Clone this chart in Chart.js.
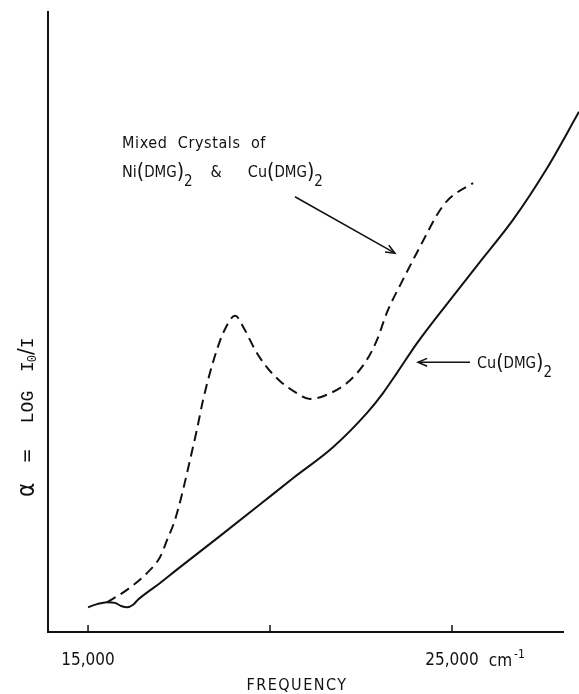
<!DOCTYPE html>
<html><head><meta charset="utf-8">
<script src="https://cdn.jsdelivr.net/npm/chart.js@4/dist/chart.umd.min.js"></script>
<style>html,body{margin:0;padding:0;background:#fff}#wrap{width:579px;height:694px;position:relative}</style>
</head><body><div id="wrap"><canvas id="c" width="579" height="694"></canvas></div>
<script>
// Cu(DMG)2 (solid) : frequency (cm-1) vs absorbance (arbitrary units)
const cuFreq = [15000,15250,15520,15740,15910,16070,16240,16370,16980,17450,18630,19730,20630,21730,22660,23100,23490,24040,24940,25770,26680,27610,28490];
const cuAbs  = [4.0,4.5,4.8,4.7,4.2,4.0,4.4,5.2,7.9,10.1,15.5,20.6,24.8,29.8,35.3,38.5,41.8,46.6,53.5,59.7,66.5,74.8,83.9];
// Mixed crystals of Ni(DMG)2 & Cu(DMG)2 (dashed)
const mixFreq = [15520,16070,16620,16980,17170,17390,17610,17800,17990,18160,18350,18540,18710,19040,19310,19590,19860,20270,20690,21100,21650,22200,22660,22940,23210,23650,23930,24260,24590,24860,25170,25580];
const mixAbs  = [4.8,6.8,9.5,12.1,14.8,18.1,22.9,27.7,32.6,37.4,41.8,45.5,48.2,51.0,48.7,45.5,43.1,40.5,38.7,37.6,38.5,40.6,43.9,47.1,51.5,56.8,60.0,63.7,67.3,69.5,71.0,72.4];
const xTickValues = [15000,20000,25000];
const xTickLabels = ['15,000','','25,000'];
const xUnit = 'cm';
const xUnitExp = '-1';
const xTitle = 'FREQUENCY';

const INK = '#111';
const FONT = "'DejaVu Sans Condensed','DejaVu Sans',sans-serif";

function pts(xs, ys){ return xs.map((x,i)=>({x:x, y:ys[i]})); }

const annot = {
  id:'annot',
  afterDraw(chart){
    const ctx = chart.ctx, xs = chart.scales.x, ys = chart.scales.y;
    const X = v=>xs.getPixelForValue(v), Y = v=>ys.getPixelForValue(v);
    ctx.save();
    ctx.fillStyle = INK; ctx.strokeStyle = INK;
    ctx.lineWidth = 1.5;
    xTickValues.forEach(v=>{
      const px = X(v);
      ctx.beginPath(); ctx.moveTo(px, ys.bottom); ctx.lineTo(px, ys.bottom-7); ctx.stroke();
    });
    ctx.font = "17px " + FONT;
    ctx.textBaseline = 'alphabetic'; ctx.textAlign = 'left';
    const lw = ctx.measureText(xTickLabels[2]).width;
    const lx = X(xTickValues[2]) + lw/2 + 10;
    const by = 666;
    ctx.fillText(xUnit, lx, by);
    const cw = ctx.measureText(xUnit).width;
    ctx.font = "12px " + FONT;
    ctx.fillText(xUnitExp, lx + cw + 2, by - 8);
    ctx.font = "16px " + FONT;
    ctx.textAlign = 'center'; ctx.textBaseline = 'middle';
    try { ctx.letterSpacing = '1.5px'; } catch(e) {}
    ctx.fillText(xTitle, 297, 686);
    try { ctx.letterSpacing = '0px'; } catch(e) {}
    ctx.save();
    ctx.translate(28, 0);
    ctx.rotate(-Math.PI/2);
    ctx.textAlign = 'center'; ctx.textBaseline = 'middle';
    ctx.font = "24px " + FONT;
    ctx.fillText('α', -490, 0);
    ctx.font = "20px " + FONT;
    ctx.fillText('=', -456, 0);
    ctx.font = "18px 'Liberation Mono', monospace";
    ctx.fillText('LOG', -407, 0);
    ctx.textAlign = 'left';
    let p = -372;
    ctx.font = "18px 'Liberation Mono', monospace";
    ctx.fillText('I', p, 0); p += ctx.measureText('I').width - 1;
    ctx.font = "12px 'Liberation Mono', monospace";
    ctx.fillText('0', p, 5); p += ctx.measureText('0').width;
    ctx.font = "22px " + FONT;
    ctx.fillText('/', p, -1); p += ctx.measureText('/').width;
    ctx.font = "18px 'Liberation Mono', monospace";
    ctx.fillText('I', p, 0);
    ctx.restore();

    function rich(parts, x, y){
      ctx.textAlign = 'left'; ctx.textBaseline = 'alphabetic';
      let cx = x;
      parts.forEach(([t, s, dy, gap])=>{
        ctx.font = s + "px " + FONT;
        ctx.fillText(t, cx, y + (dy||0));
        cx += ctx.measureText(t).width + (gap||0);
      });
    }
    ctx.font = "16px " + FONT;
    try { ctx.letterSpacing = '0.6px'; } catch(e) {}
    ctx.textAlign = 'left'; ctx.textBaseline = 'alphabetic';
    ctx.fillText('Mixed  Crystals  of', X(15934), 148);
    try { ctx.letterSpacing = '0px'; } catch(e) {}
    rich([['Ni',16,0],['(',21,1],['DMG',15,0],[')',21,1],['2',15,9,18],['&',16,0,26],['Cu',16,0],['(',21,1],['DMG',15,0],[')',21,1],['2',15,9]], X(15934), 177);
    rich([['Cu',16,0],['(',21,1],['DMG',15,0],[')',21,1],['2',15,9]], X(25686), 368);

    function arrow(x1,y1,x2,y2){
      ctx.lineWidth = 1.5;
      ctx.beginPath(); ctx.moveTo(x1,y1); ctx.lineTo(x2,y2); ctx.stroke();
      const a = Math.atan2(y2-y1, x2-x1), L = 10, w = 0.4;
      ctx.beginPath();
      ctx.moveTo(x2 - L*Math.cos(a-w), y2 - L*Math.sin(a-w));
      ctx.lineTo(x2, y2);
      ctx.lineTo(x2 - L*Math.cos(a+w), y2 - L*Math.sin(a+w));
      ctx.stroke();
    }
    arrow(X(20686), Y(70.2), X(23433), Y(61.1));
    arrow(X(25494), Y(43.5), X(24065), Y(43.5));
    ctx.restore();
  }
};

new Chart(document.getElementById('c'), {
  type:'line',
  data:{ datasets:[
    { label:'Cu(DMG)2', data:pts(cuFreq, cuAbs), borderColor:INK, borderWidth:2, pointRadius:0,
      cubicInterpolationMode:'monotone', clip:false, fill:false },
    { label:'Mixed', data:pts(mixFreq, mixAbs), borderColor:INK, borderWidth:2, borderDash:[10,6], pointRadius:0,
      cubicInterpolationMode:'monotone', clip:false, fill:false }
  ]},
  options:{
    responsive:false, animation:false, devicePixelRatio:1,
    layout:{ padding:{ top:12, right:16, left:0, bottom:0 } },
    plugins:{ legend:{display:false}, tooltip:{enabled:false} },
    scales:{
      x:{ type:'linear', min:13900, max:28050,
        afterBuildTicks:s=>{ s.ticks = xTickValues.map(v=>({value:v})); },
        afterFit:s=>{ s.height = 62; },
        grid:{ display:true, drawOnChartArea:false, drawTicks:false },
        border:{ display:true, color:INK, width:2 },
        ticks:{ padding:18, autoSkip:false, maxRotation:0, color:INK,
          font:{ family:FONT, size:17 }, callback:(v,i)=>xTickLabels[i] }
      },
      y:{ type:'linear', min:0, max:100,
        afterFit:s=>{ s.width = 48; },
        grid:{ display:true, drawOnChartArea:false, drawTicks:false },
        border:{ display:true, color:INK, width:2 },
        ticks:{ display:false }
      }
    }
  },
  plugins:[annot]
});
</script>
</body></html>
